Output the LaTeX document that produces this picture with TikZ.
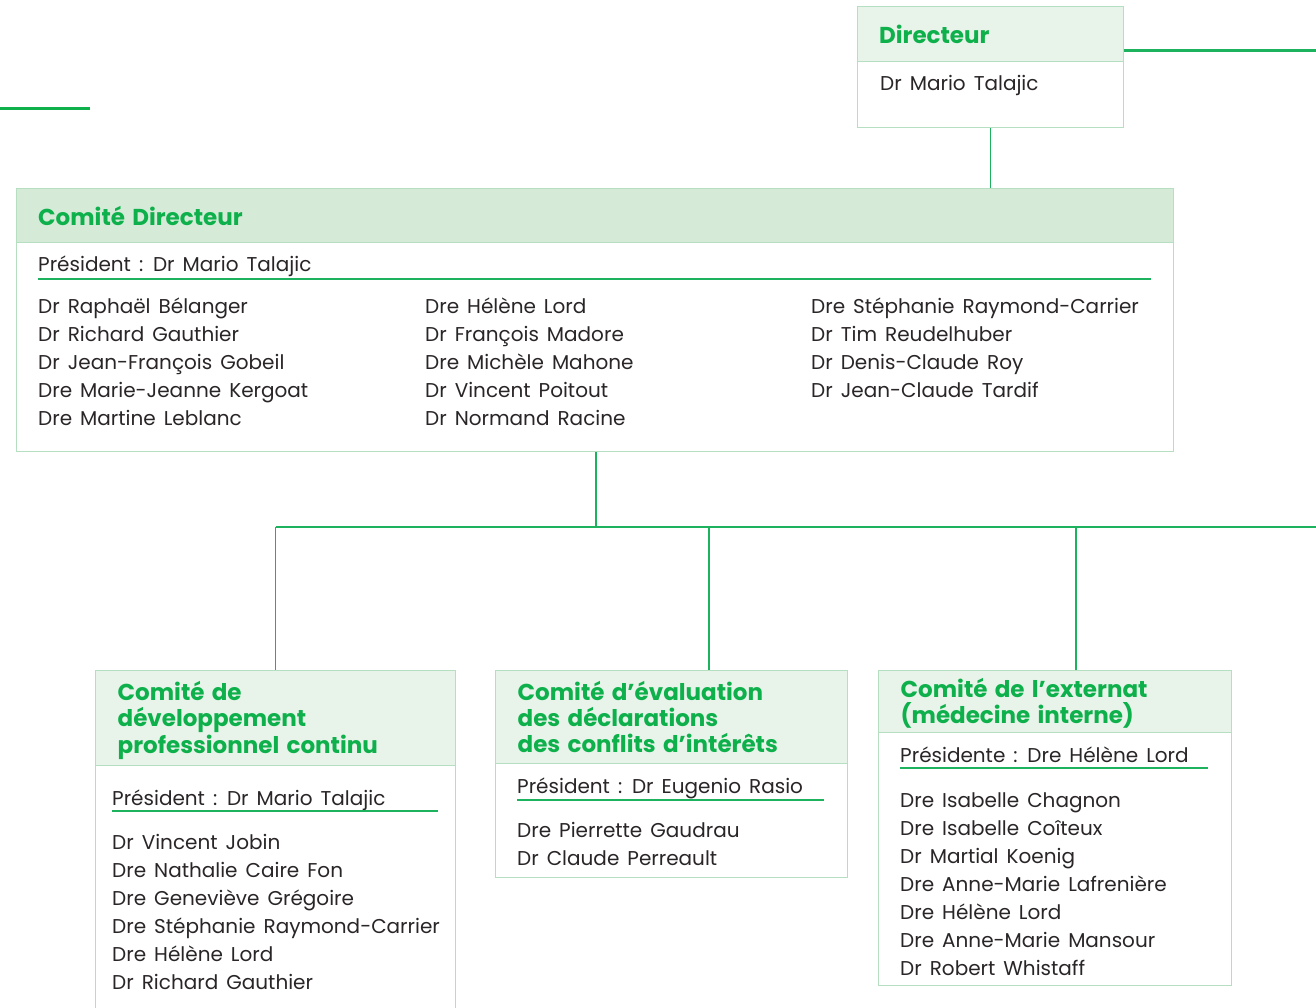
\documentclass[tikz,border=0pt]{standalone}
\usepackage{fontspec}
\setmainfont{Poppins}[WordSpace=1.5]
\definecolor{tgreen}{HTML}{0DB04B}
\definecolor{lgreen}{HTML}{1DB35E}
\definecolor{bord}{HTML}{B5DFC0}
\definecolor{hfill}{HTML}{E8F3E9}
\definecolor{hfillb}{HTML}{D5EBD7}
\definecolor{txt}{HTML}{2A2627}
\tikzset{
 boxframe/.style={draw=bord, line width=1.2pt, fill=white, rectangle, inner sep=0pt, anchor=north west},
 headframe/.style={draw=bord, line width=1.2pt, fill=hfill, rectangle, inner sep=0pt, anchor=north west},
 ttl/.style={anchor=base west, inner sep=0pt, text=tgreen, font=\fontsize{23}{26}\selectfont\bfseries},
 nm/.style={anchor=base west, inner sep=0pt, text=txt, font=\fontsize{20}{24}\selectfont},
 conn/.style={draw=lgreen, line width=1.5pt},
 uline/.style={draw=lgreen, line width=2pt},
}
\begin{document}
\begin{tikzpicture}[x=1pt,y=-1pt]
\useasboundingbox (0,0) rectangle (1316,1008);
% decorative lines
\coordinate (tl0) at (0,109);
\coordinate (tl1) at (90,109);
\draw[draw=tgreen, line width=3pt] (tl0) -- (tl1);
% Directeur
\node[boxframe, minimum width=265.5pt, minimum height=120.7pt] (dir) at (857,6) {};
\node[headframe, minimum width=265.5pt, minimum height=55pt] (dirh) at (857,6) {};
\node[ttl] (dirt) at (879,44) {Directeur};
\node[nm] (dirn) at (880,91) {Dr Mario Talajic};
\coordinate (tr) at (1316,50.7);
\draw[conn, line width=2.5pt] (tr -| dir.east) -- (tr);
% Comite directeur
\node[boxframe, minimum width=1157pt, minimum height=263pt] (cd) at (16,188) {};
\node[headframe, fill=hfillb, minimum width=1157pt, minimum height=53.7pt] (cdh) at (16,188) {};
\node[ttl] (cdt) at (38,226) {Comité Directeur};
\node[nm] (cdp) at (38,272) {Président : Dr Mario Talajic};
\coordinate (cdu0) at (38,278.5);
\coordinate (cdu1) at (1151,278.5);
\draw[uline] (cdu0) -- (cdu1);
\foreach \n [count=\i] in {Dr Raphaël Bélanger, Dr Richard Gauthier, Dr Jean-François Gobeil, Dre Marie-Jeanne Kergoat, Dre Martine Leblanc}
  \node[nm] (cda\i) at (38,285+28*\i) {\n};
\foreach \n [count=\i] in {Dre Hélène Lord, Dr François Madore, Dre Michèle Mahone, Dr Vincent Poitout, Dr Normand Racine}
  \node[nm] (cdb\i) at (425,285+28*\i) {\n};
\foreach \n [count=\i] in {Dre Stéphanie Raymond-Carrier, Dr Tim Reudelhuber, Dr Denis-Claude Roy, Dr Jean-Claude Tardif}
  \node[nm] (cdc\i) at (811,285+28*\i) {\n};
% connector dir -> cd
\draw[conn] (dir.south) -- (cd.north -| dir.south);
% Box 1
\node[boxframe, minimum width=360pt, minimum height=350pt] (b1) at (95,670) {};
\node[headframe, minimum width=360pt, minimum height=95pt] (b1h) at (95,670) {};
\node[ttl] (b1t1) at (117.5,700) {Comité de};
\node[ttl] (b1t2) at (117.5,726.5) {développement};
\node[ttl] (b1t3) at (117.5,753) {professionnel continu};
\node[nm] (b1p) at (112,805) {Président : Dr Mario Talajic};
\coordinate (b1u0) at (112,811);
\coordinate (b1u1) at (438,811);
\draw[uline] (b1u0) -- (b1u1);
\foreach \n [count=\i] in {Dr Vincent Jobin, Dre Nathalie Caire Fon, Dre Geneviève Grégoire, Dre Stéphanie Raymond-Carrier, Dre Hélène Lord, Dr Richard Gauthier}
  \node[nm] (b1m\i) at (112,821+28*\i) {\n};
% Box 2
\node[boxframe, minimum width=351.7pt, minimum height=206.7pt] (b2) at (495,670) {};
\node[headframe, minimum width=351.7pt, minimum height=93pt] (b2h) at (495,670) {};
\node[ttl] (b2t1) at (517.5,700) {Comité d’évaluation};
\node[ttl] (b2t2) at (517.5,726) {des déclarations};
\node[ttl] (b2t3) at (517.5,752.5) {des conflits d’intérêts};
\node[nm] (b2p) at (517,793) {Président : Dr Eugenio Rasio};
\coordinate (b2u0) at (517,799.5);
\coordinate (b2u1) at (824,799.5);
\draw[uline] (b2u0) -- (b2u1);
\node[nm] (b2m1) at (517,837) {Dre Pierrette Gaudrau};
\node[nm] (b2m2) at (517,865) {Dr Claude Perreault};
% Box 3
\node[boxframe, minimum width=353pt, minimum height=315pt] (b3) at (877.5,670) {};
\node[headframe, minimum width=353pt, minimum height=62pt] (b3h) at (877.5,670) {};
\node[ttl] (b3t1) at (900.5,697) {Comité de l’externat};
\node[ttl] (b3t2) at (900.5,723.5) {(médecine interne)};
\node[nm] (b3p) at (900,762) {Présidente : Dre Hélène Lord};
\coordinate (b3u0) at (900,768);
\coordinate (b3u1) at (1208,768);
\draw[uline] (b3u0) -- (b3u1);
\foreach \n [count=\i] in {Dre Isabelle Chagnon, Dre Isabelle Coîteux, Dr Martial Koenig, Dre Anne-Marie Lafrenière, Dre Hélène Lord, Dre Anne-Marie Mansour, Dr Robert Whistaff}
  \node[nm] (b3m\i) at (900,779+28*\i) {\n};
% connectors tree
\coordinate (bus) at (596,527);
\coordinate (busr) at (1316,527);
\coordinate (x2) at (709,527);
\coordinate (x3) at (1076,527);
\draw[conn] (cd.south -| bus) -- (bus);
\draw[conn] (b1.north |- bus) -- (busr);
\draw[conn] (b1.north |- bus) -- (b1.north);
\draw[conn] (x2) -- (b2.north -| x2);
\draw[conn] (x3) -- (b3.north -| x3);
\end{tikzpicture}
\end{document}
